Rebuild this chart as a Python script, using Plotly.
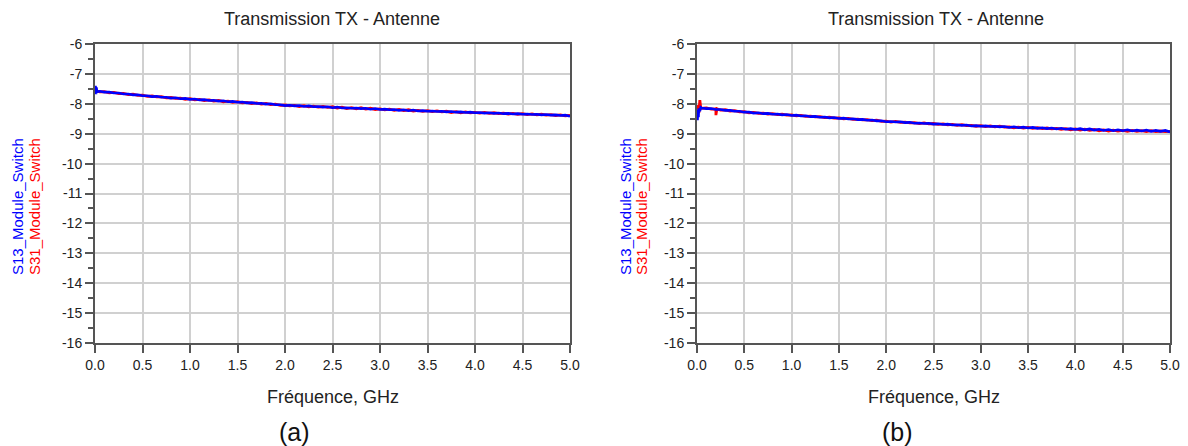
import plotly.graph_objects as go

# ---------------- data ----------------
# common frequency sweep (GHz)
freq = [round(0.05 * i, 2) for i in range(1, 101)]

# (a) start-of-sweep points
fa_blue0 = [0.0, 0.005, 0.01, 0.015, 0.02]
s13_a0 = [-7.55, -7.40, -7.68, -7.45, -7.60]
fa_red0 = [0.0, 0.005, 0.01, 0.02]
s31_a0 = [-7.56, -7.45, -7.62, -7.57]

s13_a = [-7.58, -7.61, -7.61, -7.64, -7.64, -7.67, -7.67, -7.70, -7.70, -7.73,
         -7.73, -7.76, -7.75, -7.78, -7.78, -7.81, -7.80, -7.83, -7.82, -7.85,
         -7.84, -7.87, -7.86, -7.89, -7.88, -7.91, -7.90, -7.93, -7.92, -7.95,
         -7.94, -7.97, -7.96, -7.99, -7.98, -8.01, -8.00, -8.03, -8.03, -8.06,
         -8.05, -8.07, -8.06, -8.09, -8.07, -8.10, -8.09, -8.11, -8.10, -8.13,
         -8.11, -8.14, -8.13, -8.15, -8.14, -8.16, -8.15, -8.18, -8.16, -8.19,
         -8.18, -8.20, -8.19, -8.22, -8.20, -8.23, -8.21, -8.24, -8.23, -8.25,
         -8.24, -8.26, -8.25, -8.27, -8.26, -8.28, -8.27, -8.29, -8.28, -8.30,
         -8.29, -8.31, -8.30, -8.32, -8.31, -8.33, -8.32, -8.34, -8.33, -8.35,
         -8.34, -8.36, -8.35, -8.37, -8.36, -8.38, -8.37, -8.39, -8.38, -8.42]

s31_a = [-7.60, -7.59, -7.63, -7.62, -7.66, -7.65, -7.69, -7.68, -7.72, -7.71,
         -7.75, -7.74, -7.77, -7.76, -7.80, -7.79, -7.82, -7.81, -7.85, -7.83,
         -7.87, -7.85, -7.89, -7.87, -7.91, -7.89, -7.93, -7.91, -7.95, -7.93,
         -7.97, -7.95, -7.99, -7.97, -8.01, -7.99, -8.03, -8.01, -8.05, -8.04,
         -8.07, -8.05, -8.09, -8.06, -8.10, -8.08, -8.11, -8.09, -8.12, -8.10,
         -8.14, -8.11, -8.16, -8.13, -8.17, -8.13, -8.18, -8.15, -8.19, -8.17,
         -8.20, -8.18, -8.22, -8.19, -8.23, -8.20, -8.24, -8.22, -8.25, -8.23,
         -8.26, -8.24, -8.27, -8.25, -8.29, -8.26, -8.30, -8.27, -8.30, -8.29,
         -8.31, -8.29, -8.32, -8.30, -8.33, -8.31, -8.34, -8.32, -8.35, -8.33,
         -8.36, -8.34, -8.37, -8.35, -8.38, -8.36, -8.39, -8.37, -8.40, -8.39]

# (b) start-of-sweep points
fb_blue0 = [0.0, 0.005, 0.01, 0.015, 0.02, 0.03, 0.04]
s13_b0 = [-8.35, -8.55, -8.20, -8.45, -8.15, -8.25, -8.12]
fb_red0 = [0.0, 0.01, 0.02, 0.03, 0.04]
s31_b0 = [-8.20, -8.05, -8.30, -7.88, -8.15]
fb_red_glitch = [0.19, 0.20, 0.21]
s31_b_glitch = [-8.17, -8.38, -8.17]

s13_b = [-8.14, -8.16, -8.16, -8.19, -8.19, -8.22, -8.22, -8.25, -8.25, -8.28,
         -8.28, -8.31, -8.30, -8.33, -8.32, -8.35, -8.34, -8.37, -8.36, -8.39,
         -8.38, -8.41, -8.40, -8.43, -8.42, -8.45, -8.44, -8.47, -8.46, -8.49,
         -8.48, -8.51, -8.50, -8.53, -8.52, -8.55, -8.54, -8.57, -8.57, -8.60,
         -8.59, -8.61, -8.60, -8.63, -8.62, -8.65, -8.64, -8.66, -8.65, -8.68,
         -8.67, -8.69, -8.68, -8.71, -8.70, -8.72, -8.71, -8.74, -8.73, -8.75,
         -8.74, -8.76, -8.75, -8.77, -8.76, -8.79, -8.77, -8.80, -8.78, -8.81,
         -8.79, -8.82, -8.80, -8.83, -8.81, -8.84, -8.82, -8.85, -8.83, -8.86,
         -8.83, -8.87, -8.84, -8.88, -8.85, -8.89, -8.86, -8.90, -8.87, -8.90,
         -8.87, -8.91, -8.88, -8.91, -8.88, -8.92, -8.89, -8.92, -8.89, -8.94]

s31_b = [-8.15, -8.14, -8.18, -8.17, -8.21, -8.20, -8.24, -8.23, -8.27, -8.26,
         -8.30, -8.29, -8.32, -8.31, -8.34, -8.33, -8.36, -8.35, -8.38, -8.37,
         -8.40, -8.39, -8.42, -8.41, -8.44, -8.43, -8.46, -8.45, -8.48, -8.47,
         -8.50, -8.49, -8.52, -8.51, -8.54, -8.53, -8.56, -8.55, -8.59, -8.58,
         -8.61, -8.59, -8.62, -8.61, -8.64, -8.63, -8.66, -8.64, -8.67, -8.66,
         -8.69, -8.67, -8.70, -8.69, -8.72, -8.70, -8.73, -8.72, -8.75, -8.73,
         -8.76, -8.74, -8.77, -8.75, -8.78, -8.77, -8.80, -8.78, -8.81, -8.79,
         -8.82, -8.80, -8.83, -8.81, -8.84, -8.82, -8.85, -8.83, -8.87, -8.84,
         -8.88, -8.85, -8.89, -8.86, -8.90, -8.87, -8.91, -8.88, -8.91, -8.89,
         -8.92, -8.89, -8.92, -8.90, -8.93, -8.90, -8.93, -8.91, -8.93, -8.92]

title_text = "Transmission TX - Antenne"
xlabel = "Fréquence, GHz"
blue_name = "S13_Module_Switch"
red_name = "S31_Module_Switch"
panel_labels = ["(a)", "(b)"]
xticks = [0.0, 0.5, 1.0, 1.5, 2.0, 2.5, 3.0, 3.5, 4.0, 4.5, 5.0]
yticks = list(range(-16, -5))

# ---------------- helpers ----------------
def merge(fx, fy, gx=None, gy=None):
    pts = list(zip(fx, fy))
    if gx:
        pts += list(zip(gx, gy))
    pts.sort(key=lambda p: p[0])
    return [p[0] for p in pts], [p[1] for p in pts]

BLUE = "#0000ff"
RED = "#ff0000"
AX = "#555555"
GRID = "#d0d0d0"
FONT = "Liberation Sans, Arial, sans-serif"

fig = go.Figure()

# panel (a)
xr, yr = merge(fa_red0 + freq, s31_a0 + s31_a)
fig.add_trace(go.Scatter(x=xr, y=yr, mode="lines", line=dict(color=RED, width=2.8),
                         xaxis="x", yaxis="y", name=red_name, showlegend=False))
xb, yb = merge(fa_blue0 + freq, s13_a0 + s13_a)
fig.add_trace(go.Scatter(x=xb, y=yb, mode="lines", line=dict(color=BLUE, width=2.6),
                         xaxis="x", yaxis="y", name=blue_name, showlegend=False))

# panel (b)
xr, yr = merge(fb_red0 + freq, s31_b0 + s31_b, fb_red_glitch, s31_b_glitch)
fig.add_trace(go.Scatter(x=xr, y=yr, mode="lines", line=dict(color=RED, width=2.8),
                         xaxis="x2", yaxis="y2", name=red_name, showlegend=False))
xb, yb = merge(fb_blue0 + freq, s13_b0 + s13_b)
fig.add_trace(go.Scatter(x=xb, y=yb, mode="lines", line=dict(color=BLUE, width=2.6),
                         xaxis="x2", yaxis="y2", name=blue_name, showlegend=False))

W, H = 1188, 446
ydom = [(H - 343) / H, (H - 44) / H]

def xaxis_cfg(dom, anchor):
    return dict(domain=dom, anchor=anchor, range=[0, 5], tickvals=xticks,
                ticktext=[f"{v:.1f}" for v in xticks], automargin=False,
                ticks="outside", ticklen=8, tickwidth=2, tickcolor=AX,
                showline=True, linecolor=AX, linewidth=2, mirror=True,
                showgrid=True, gridcolor=GRID, gridwidth=1.5, zeroline=False,
                tickfont=dict(family=FONT, size=14, color="#222"))

def yaxis_cfg(anchor):
    return dict(domain=ydom, anchor=anchor, range=[-16, -6], tickvals=yticks,
                ticktext=[str(v) for v in yticks], automargin=False,
                ticks="outside", ticklen=8, tickwidth=2, tickcolor=AX,
                minor=dict(dtick=0.5, tick0=-16, ticks="outside", ticklen=5,
                           tickwidth=2, tickcolor=AX, showgrid=False),
                showline=True, linecolor=AX, linewidth=2, mirror=True,
                showgrid=True, gridcolor=GRID, gridwidth=1.5, zeroline=False,
                tickfont=dict(family=FONT, size=14, color="#222"))

fig.update_layout(
    width=W, height=H,
    margin=dict(l=0, r=0, t=0, b=0, pad=0, autoexpand=False),
    paper_bgcolor="white", plot_bgcolor="white",
    xaxis=xaxis_cfg([95 / W, 570 / W], "y"),
    yaxis=yaxis_cfg("x"),
    xaxis2=xaxis_cfg([697 / W, 1170 / W], "y2"),
    yaxis2=yaxis_cfg("x2"),
)

ann = []
for cx_title, cx_x, cx_lab, bx, rx, lab in [
        (332, 333, 294, 17, 34, panel_labels[0]),
        (936, 934, 897, 625, 641, panel_labels[1])]:
    ann.append(dict(text=title_text, x=cx_title / W, y=1 - 19 / H, xref="paper", yref="paper",
                    showarrow=False, font=dict(family=FONT, size=18, color="#222"),
                    xanchor="center", yanchor="middle"))
    ann.append(dict(text=xlabel, x=cx_x / W, y=1 - 397 / H, xref="paper", yref="paper",
                    showarrow=False, font=dict(family=FONT, size=18, color="#222"),
                    xanchor="center", yanchor="middle"))
    ann.append(dict(text=lab, x=cx_lab / W, y=1 - 432 / H, xref="paper", yref="paper",
                    showarrow=False, font=dict(family=FONT, size=25, color="#111"),
                    xanchor="center", yanchor="middle"))
    ann.append(dict(text=blue_name, x=bx / W, y=1 - 207 / H, xref="paper", yref="paper",
                    showarrow=False, textangle=-90, font=dict(family=FONT, size=15, color=BLUE),
                    xanchor="center", yanchor="middle"))
    ann.append(dict(text=red_name, x=rx / W, y=1 - 207 / H, xref="paper", yref="paper",
                    showarrow=False, textangle=-90, font=dict(family=FONT, size=15, color=RED),
                    xanchor="center", yanchor="middle"))
fig.update_layout(annotations=ann)

fig.write_html("out.html",
               config={"displayModeBar": False},
               post_script="document.body.style.margin='0px';document.body.style.padding='0px';")
